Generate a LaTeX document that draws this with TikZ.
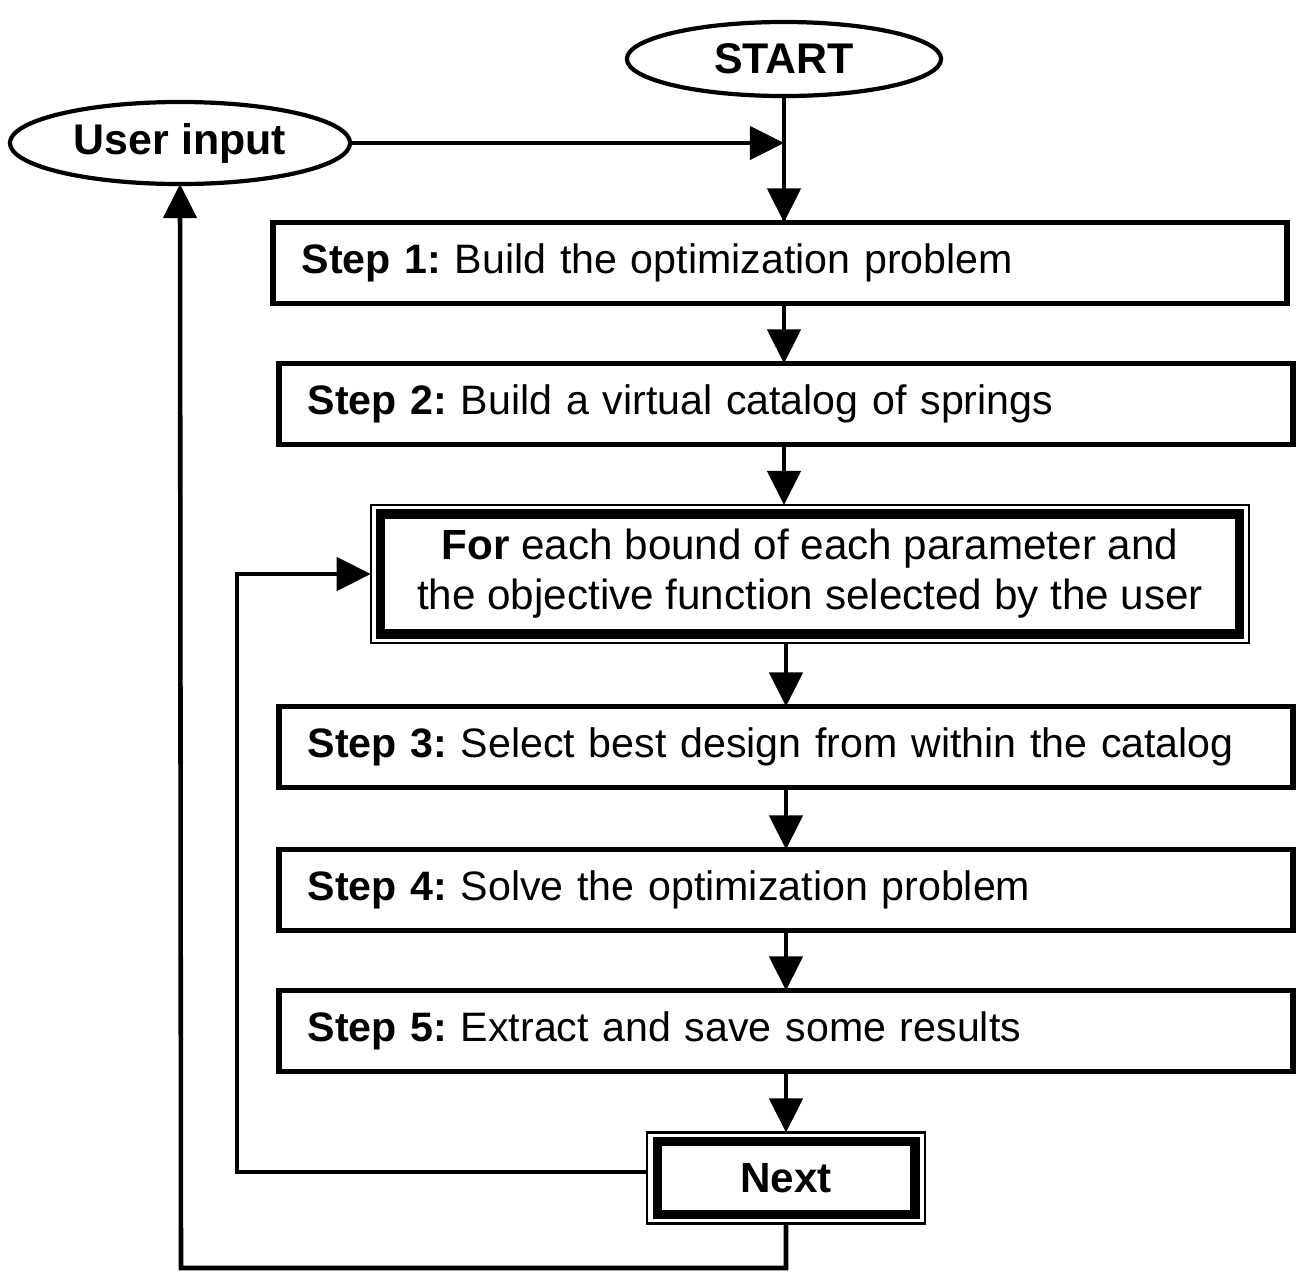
\documentclass[tikz,border=0pt]{standalone}
\usepackage{fontspec}
\setmainfont{Liberation Sans}
\usepackage{tikz}
\usetikzlibrary{arrows.meta,shapes.geometric}
\frenchspacing
\tikzset{
  stepbox/.style={draw, line width=1.6pt, rectangle, outer sep=0pt, minimum height=0.81cm,
    text width=9.56cm, inner xsep=0.285cm, align=left, font=\fontsize{11.7}{14}\selectfont},
  term/.style={draw, ellipse, line width=1.2pt, inner sep=0pt, outer sep=0pt,
    font=\fontsize{12.2}{14}\selectfont\bfseries},
  loopbox/.style={draw, rectangle, outer sep=0pt, inner sep=0pt},
  arr/.style={line width=1.3pt, -{Triangle[length=0.34cm,width=0.33cm]}}
}
\def\stepnode{\node[stepbox]}
\def\framenode{\node[loopbox, line width=0.6pt]}

\begin{document}
\begin{tikzpicture}[x=0.01cm,y=-0.01cm,font=\fontsize{12}{14.2}\selectfont]
\useasboundingbox (0,0) rectangle (1296,1272);
\node[term, minimum width=3.14cm, minimum height=0.74cm] (start) at (784,59) {START};
\node[term, minimum width=3.40cm, minimum height=0.82cm] (user) at (180,143) {User input};
\stepnode (s1) at (780,263) {\textbf{Step 1:} Build the optimization problem};
\stepnode (s2) at (786,404) {\textbf{Step 2:} Build a virtual catalog of springs};
% loop over bounds
\framenode[minimum width=8.78cm, minimum height=1.38cm] (forout) at (810,574) {};
\node[loopbox, line width=2.6pt, minimum width=8.58cm, minimum height=1.20cm, align=center] (for) at (810,574)
  {\textbf{For} each bound of each parameter and\\the objective function selected by the user};
\stepnode (s3) at (786,747) {\textbf{Step 3:} Select best design from within the catalog};
\stepnode (s4) at (786,890) {\textbf{Step 4:} Solve the optimization problem};
\stepnode (s5) at (786,1031) {\textbf{Step 5:} Extract and save some results};
\framenode[minimum width=2.77cm, minimum height=0.91cm] (nextout) at (786,1178) {};
\node[loopbox, line width=2.8pt, minimum width=2.57cm, minimum height=0.73cm,
  font=\fontsize{12}{14}\selectfont\bfseries] (next) at (786,1178) {Next};
\coordinate (back) at (237,1172);
\coordinate (low) at (181,1268);

\draw[line width=1.3pt] (start) -- (s1.north -| start);
\draw[arr] (user) -- (user -| start);
\draw[arr] (start |- user) -- (s1.north -| start);
\draw[arr] (s1.south -| start) -- (s2.north -| start);
\draw[arr] (s2.south -| start) -- (forout.north -| start);
\draw[arr] (forout.south -| s3) -- (s3);
\draw[arr] (s3) -- (s4);
\draw[arr] (s4) -- (s5);
\draw[arr] (s5) -- (nextout);
\draw[arr] (nextout.west |- back) -- (back) |- (forout.west);
\draw[arr] (nextout.south) |- (low) -- (user.south);
\end{tikzpicture}
\end{document}
